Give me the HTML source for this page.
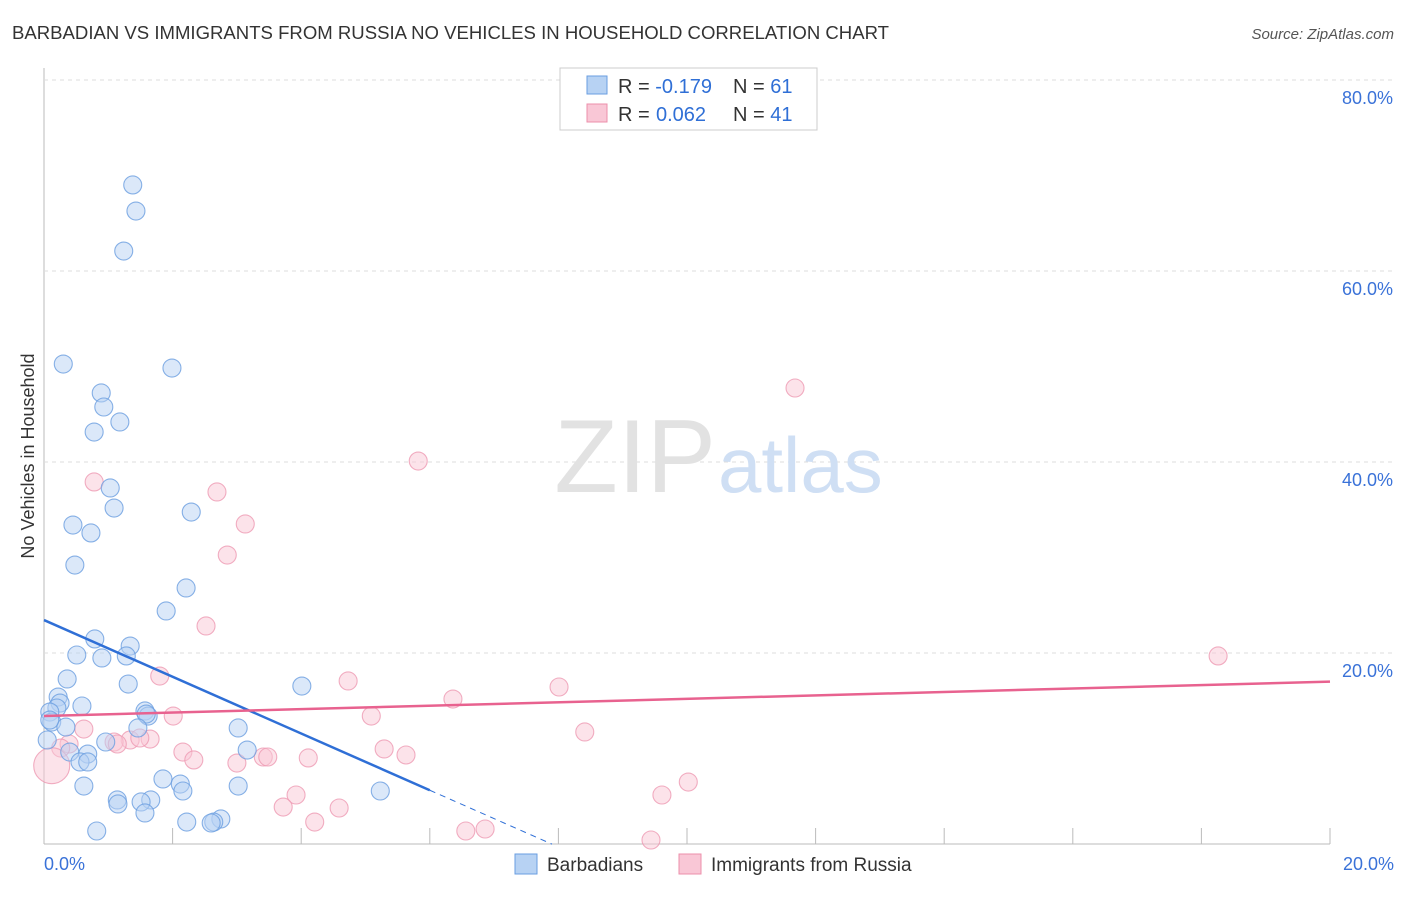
<!DOCTYPE html>
<html><head><meta charset="utf-8"><style>
body{margin:0;background:#fff;font-family:"Liberation Sans",sans-serif}
svg text{font-family:"Liberation Sans",sans-serif}
</style></head><body>
<svg width="1406" height="892" viewBox="0 0 1406 892">
<text x="12" y="39" font-size="18" fill="#333" textLength="877" lengthAdjust="spacingAndGlyphs">BARBADIAN VS IMMIGRANTS FROM RUSSIA NO VEHICLES IN HOUSEHOLD CORRELATION CHART</text>
<text x="1394" y="39" font-size="15" fill="#555" font-style="italic" text-anchor="end">Source: ZipAtlas.com</text>
<g id="grid"></g>
<text x="716" y="492" font-size="104" fill="#e2e2e2" text-anchor="end" font-family="Liberation Serif">ZIP</text>
<text x="718" y="492" font-size="78" fill="#cfdff4">atlas</text>
<g id="pts"></g>
<g id="lines"></g>
<text transform="translate(34,456) rotate(-90)" font-size="18" fill="#333" text-anchor="middle">No Vehicles in Household</text>
<rect x="560" y="68" width="257" height="62" fill="#fff" stroke="#ccc"/>
<rect x="587" y="76" width="20" height="18" fill="#b7d2f3" stroke="#6a9ee0"/>
<rect x="587" y="104" width="20" height="18" fill="#f9c7d6" stroke="#ec8fab"/>
<text x="618" y="93" font-size="20" fill="#333">R = <tspan fill="#2f6fd6">-0.179</tspan><tspan x="733">N = </tspan><tspan fill="#2f6fd6">61</tspan></text>
<text x="618" y="121" font-size="20" fill="#333">R = <tspan x="656" fill="#2f6fd6">0.062</tspan><tspan x="733">N = </tspan><tspan fill="#2f6fd6">41</tspan></text>
<text x="44" y="870" font-size="18" fill="#3a72d8">0.0%</text>
<text x="1394" y="870" font-size="18" fill="#3a72d8" text-anchor="end">20.0%</text>
<rect x="515" y="854" width="22" height="20" fill="#b7d2f3" stroke="#6a9ee0"/>
<text x="547" y="871" font-size="19" fill="#333">Barbadians</text>
<rect x="679" y="854" width="22" height="20" fill="#f9c7d6" stroke="#ec8fab"/>
<text x="711" y="871" font-size="19" fill="#333">Immigrants from Russia</text>
</svg>
<script>
const yTicks=[20,40,60,80];
const xTicks=[2,4,6,8,10,12,14,16,18,20];
const bluePx=[[133,185],[136,211],[124,251],[63,364],[172,368],[101,393],[104,407],[120,422],[94,432],[110,488],[114,508],[73,525],[91,533],[191,512],[75,565],[186,588],[166,611],[95,639],[130,646],[77,655],[102,658],[126,656],[128,684],[302,686],[67,679],[58,697],[60,703],[57,708],[82,706],[50,712],[52,722],[145,711],[148,716],[146,714],[66,727],[238,728],[138,728],[47,740],[247,750],[106,742],[88,754],[70,752],[80,762],[88,762],[163,779],[84,786],[180,784],[183,791],[238,786],[380,791],[117,800],[151,800],[141,802],[118,804],[145,813],[187,822],[221,819],[214,822],[211,823],[97,831],[50,720]];
const pinkPx=[[795,388],[418,461],[94,482],[217,492],[245,524],[227,555],[206,626],[160,676],[348,681],[559,687],[453,699],[1218,656],[173,716],[371,716],[84,729],[585,732],[69,744],[130,740],[150,739],[140,738],[114,742],[117,744],[183,752],[384,749],[406,755],[263,757],[268,757],[308,758],[194,760],[237,763],[61,748],[296,795],[339,808],[283,807],[315,822],[662,795],[688,782],[466,831],[485,829],[651,840]];
const blueX=bluePx.map(p=>+((p[0]-44)/64.3).toFixed(2));
const blueY=bluePx.map(p=>+((844-p[1])/9.55).toFixed(2));
const pinkX=pinkPx.map(p=>+((p[0]-44)/64.3).toFixed(2));
const pinkY=pinkPx.map(p=>+((844-p[1])/9.55).toFixed(2));
const bigPinkX=[0.12], bigPinkY=[8.2];
const blueTrend=[23.45,-2.97];
const pinkTrend=[13.4,0.18];
const X=v=>44+v*64.3, Y=v=>844-v*9.55;
const NS='http://www.w3.org/2000/svg';
function mk(t,a,p){const e=document.createElementNS(NS,t);for(const k in a)e.setAttribute(k,a[k]);p.appendChild(e);return e;}
const g=document.getElementById('grid');
let e=mk('line',{x1:44,y1:68,x2:44,y2:844,stroke:'#bbb'},g);


e=mk('line',{x1:44,y1:844,x2:1330,y2:844,stroke:'#bbb'},g);


yTicks.forEach(v=>{
 e=mk('line',{x1:44,y1:Y(v),x2:1394,y2:Y(v),stroke:'#ddd','stroke-dasharray':'4,4'},g);
 
 
 e=mk('text',{x:1393,y:Y(v)+24,'font-size':18,fill:'#3a72d8','text-anchor':'end'},g);
 e.textContent=v.toFixed(1)+'%';
 
 
});
xTicks.forEach(v=>{
 e=mk('line',{x1:X(v),y1:828,x2:X(v),y2:844,stroke:'#bbb'},g);
 
 
});
const pg=document.getElementById('pts');
function dot(x,y,r,f,s,n){const c=mk('circle',{cx:X(x),cy:Y(y),r:r,fill:f,'fill-opacity':0.5,stroke:s,'stroke-opacity':0.8,'stroke-width':1.1},pg);

}
pinkX.forEach((x,i)=>dot(x,pinkY[i],9,'#f9c7d6','#ee9ab3','russia-point'));
bigPinkX.forEach((x,i)=>dot(x,bigPinkY[i],18,'#f9c7d6','#ee9ab3','russia-point-large'));
blueX.forEach((x,i)=>dot(x,blueY[i],9,'#b7d2f3','#6a9ee0','barbadian-point'));
const lg=document.getElementById('lines');
e=mk('line',{x1:X(0),y1:Y(blueTrend[0]),x2:X(6),y2:Y(blueTrend[0]+blueTrend[1]*6),stroke:'#2f6fd6','stroke-width':2.5},lg);


e=mk('line',{x1:X(6),y1:Y(blueTrend[0]+blueTrend[1]*6),x2:X(7.9),y2:Y(blueTrend[0]+blueTrend[1]*7.9),stroke:'#2f6fd6','stroke-width':1,'stroke-dasharray':'6,5'},lg);


e=mk('line',{x1:X(0),y1:Y(pinkTrend[0]),x2:X(20),y2:Y(pinkTrend[0]+pinkTrend[1]*20),stroke:'#e8628f','stroke-width':2.5},lg);


</script>
</body></html>
